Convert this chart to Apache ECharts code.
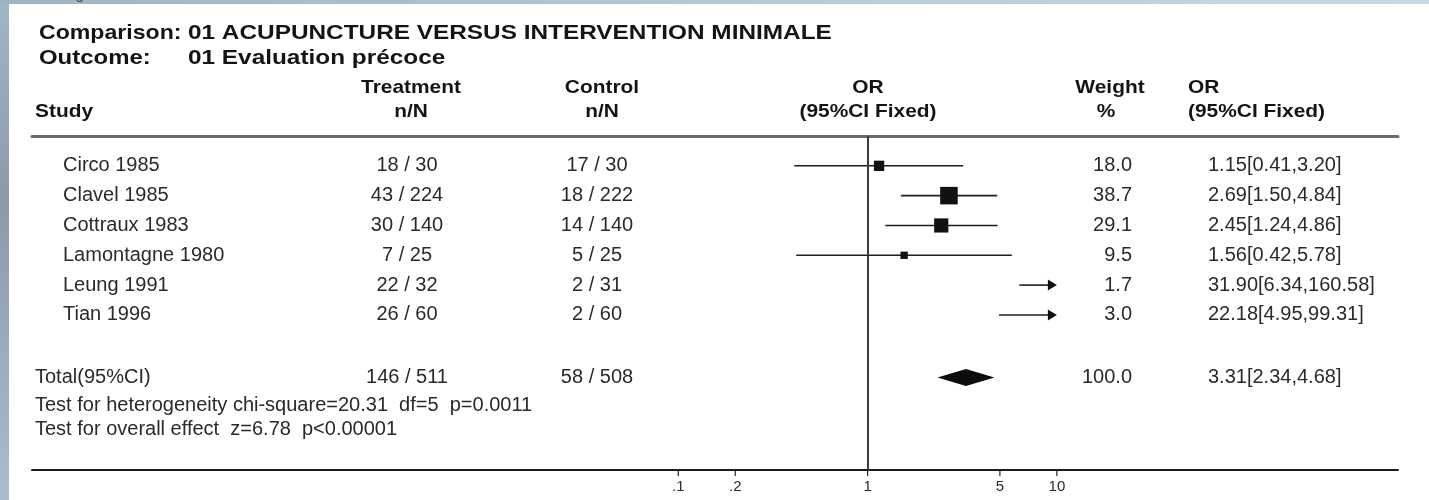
<!DOCTYPE html>
<html><head><meta charset="utf-8">
<script src="https://cdn.jsdelivr.net/npm/echarts@6/dist/echarts.min.js"></script>
<style>
html,body{margin:0;padding:0;}
body{width:1429px;height:500px;overflow:hidden;position:relative;
  background:linear-gradient(to bottom,#a3b6c5 0%,#8b9aa7 40%,#aabdcd 100%);}
#paper{position:absolute;left:9px;top:4px;width:1420px;height:496px;background:#ffffff;}
#topstrip{position:absolute;left:0;top:0;width:1429px;height:4px;background:linear-gradient(to right,#9fb3c3,#b9ccda 60%,#c8d7e2);}
#chart{position:absolute;left:0;top:0;width:1429px;height:500px;}
</style></head><body>
<div id="topstrip"></div><div id="paper"></div><div id="chart"></div>
<script>
// ---------------- data ----------------
const studies      = ['Circo 1985','Clavel 1985','Cottraux 1983','Lamontagne 1980','Leung 1991','Tian 1996'];
const treatEvents  = [18, 43, 30, 7, 22, 26];
const treatTotals  = [30, 224, 140, 25, 32, 60];
const ctrlEvents   = [17, 18, 14, 5, 2, 2];
const ctrlTotals   = [30, 222, 140, 25, 31, 60];
const weights      = [18.0, 38.7, 29.1, 9.5, 1.7, 3.0];
const orValues     = [1.15, 2.69, 2.45, 1.56, 31.90, 22.18];
const ciLow        = [0.41, 1.50, 1.24, 0.42, 6.34, 4.95];
const ciHigh       = [3.20, 4.84, 4.86, 5.78, 160.58, 99.31];

const totalLabel   = 'Total(95%CI)';
const totalTreat   = [146, 511];
const totalCtrl    = [58, 508];
const totalWeight  = [100.0];
const totalOR      = [3.31];
const totalLow     = [2.34];
const totalHigh    = [4.68];

const notes        = ['Test for heterogeneity chi-square=20.31  df=5  p=0.0011',
                      'Test for overall effect  z=6.78  p<0.00001'];
const tickValues   = [0.1, 0.2, 1, 5, 10];
const tickLabels   = ['.1', '.2', '1', '5', '10'];

const titleLine1   = ['Comparison:', '01 ACUPUNCTURE VERSUS INTERVENTION MINIMALE'];
const titleLine2   = ['Outcome:', '01 Evaluation précoce'];
const figLabel     = 'Fig 1';

// ---------------- layout ----------------
const FONT = '"Liberation Sans", Arial, Helvetica, sans-serif';
const AXIS_MIN = Math.pow(10, -4.414), AXIS_MAX = Math.pow(10, 2.802);
const PLOT_MIN = 0.1, PLOT_MAX = 10;
const Y_MIN = -1, Y_MAX = 10.2;
const ROW_TOTAL = 7.1, ROW_NOTES = [8.05, 8.85];
const COL = { study: 63, left: 35, treat: 407, ctrl: 597, weightRight: 1132, orText: 1208 };
const TEXT_COLOR = '#2a2a2a';
const BODY_SIZE = 20;

function f2(v){ return v.toFixed(2); }
function orStr(o,l,h){ return f2(o) + '[' + f2(l) + ',' + f2(h) + ']'; }
function txt(text, x, y, align, size){
  return { type:'text', x:x, y:y, silent:true,
    style:{ text:text, fill:TEXT_COLOR, fontSize:size||BODY_SIZE, fontFamily:FONT, align:align, verticalAlign:'middle' } };
}

function renderStudy(params, api){
  const i = params.dataIndex;
  const row = api.value(1);
  const y = api.coord([1, row])[1];
  const ch = [];
  ch.push(txt(studies[i], COL.study, y, 'left'));
  ch.push(txt(treatEvents[i] + ' / ' + treatTotals[i], COL.treat, y, 'center'));
  ch.push(txt(ctrlEvents[i] + ' / ' + ctrlTotals[i], COL.ctrl, y, 'center'));
  ch.push(txt(weights[i].toFixed(1), COL.weightRight, y, 'right'));
  ch.push(txt(orStr(orValues[i], ciLow[i], ciHigh[i]), COL.orText, y, 'left'));
  const xLo = api.coord([Math.max(ciLow[i], PLOT_MIN), row])[0];
  const xHi = api.coord([Math.min(ciHigh[i], PLOT_MAX), row])[0];
  const arrow = ciHigh[i] > PLOT_MAX;
  ch.push({ type:'line', shape:{ x1:xLo, y1:y, x2: arrow ? xHi - 6 : xHi, y2:y },
    style:{ stroke:'#1e1e1e', lineWidth:1.6 } });
  if (arrow) {
    ch.push({ type:'polygon', shape:{ points:[[xHi-9, y-5.5],[xHi, y],[xHi-9, y+5.5]] }, style:{ fill:'#111' } });
  }
  if (orValues[i] <= PLOT_MAX) {
    const xo = api.coord([orValues[i], row])[0];
    const s = 0.35 * weights[i] + 4;
    ch.push({ type:'rect', shape:{ x:xo - s/2, y:y - s/2, width:s, height:s }, style:{ fill:'#111' } });
  }
  return { type:'group', children:ch };
}

function renderTotal(params, api){
  const row = api.value(1);
  const y = api.coord([1, row])[1];
  const xl = api.coord([totalLow[0], row])[0];
  const xc = api.coord([totalOR[0], row])[0];
  const xh = api.coord([totalHigh[0], row])[0];
  const h = 8.5;
  return { type:'group', children:[
    txt(totalLabel, COL.left, y, 'left'),
    txt(totalTreat[0] + ' / ' + totalTreat[1], COL.treat, y, 'center'),
    txt(totalCtrl[0] + ' / ' + totalCtrl[1], COL.ctrl, y, 'center'),
    txt(totalWeight[0].toFixed(1), COL.weightRight, y, 'right'),
    txt(orStr(totalOR[0], totalLow[0], totalHigh[0]), COL.orText, y, 'left'),
    { type:'polygon', shape:{ points:[[xl, y],[xc, y-h],[xh, y],[xc, y+h]] }, style:{ fill:'#0d0d0d' } }
  ]};
}

function renderNote(params, api){
  const y = api.coord([1, api.value(1)])[1];
  return txt(notes[params.dataIndex], COL.left, y, 'left');
}

function renderTick(params, api){
  const p = api.coord([api.value(0), Y_MAX]);
  return { type:'group', children:[
    { type:'line', shape:{ x1:p[0], y1:p[1], x2:p[0], y2:p[1] + 6 }, style:{ stroke:'#222', lineWidth:1.2 } },
    { type:'text', x:p[0], y:p[1] + 17, style:{ text:tickLabels[params.dataIndex], fill:TEXT_COLOR, fontSize:15, fontFamily:FONT, align:'center', verticalAlign:'middle' } }
  ]};
}

function headText(text, x, y, align, size, scaleX){
  return { type:'text', x:x, y:y, scaleX:scaleX || 1, silent:true,
    style:{ text:text, fill:'#141414', fontSize:size, fontWeight:'bold', fontFamily:FONT, align:align, verticalAlign:'middle' } };
}

const chart = echarts.init(document.getElementById('chart'), null, { renderer:'canvas' });
chart.setOption({
  backgroundColor:'transparent',
  animation:false,
  grid:{ left:32, right:31, top:136, bottom:30, containLabel:false },
  xAxis:[
    { type:'log', min:AXIS_MIN, max:AXIS_MAX, position:'bottom',
      axisLine:{ show:true, onZero:false, lineStyle:{ color:'#1c1c1c', width:2 } },
      axisTick:{ show:false }, axisLabel:{ show:false }, splitLine:{ show:false }, minorTick:{show:false} },
    { type:'value', min:0, max:1, position:'top',
      axisLine:{ show:true, onZero:false, lineStyle:{ color:'#6a6a6a', width:3 } },
      axisTick:{ show:false }, axisLabel:{ show:false }, splitLine:{ show:false } }
  ],
  yAxis:{ type:'value', inverse:true, min:Y_MIN, max:Y_MAX, show:false },
  graphic:[
    { type:'text', x:62, y:-5, silent:true,
      style:{ text:figLabel, fill:'#555', fontSize:16, fontFamily:FONT, align:'left', verticalAlign:'middle' } },
    headText(titleLine1[0], 39, 33, 'left', 21, 1.10),
    headText(titleLine1[1], 188, 33, 'left', 21, 1.16),
    headText(titleLine2[0], 39, 58, 'left', 21, 1.14),
    headText(titleLine2[1], 188, 58, 'left', 21, 1.16),
    headText('Treatment', 411, 88, 'center', 19, 1.1),
    headText('Control', 602, 88, 'center', 19, 1.1),
    headText('OR', 868, 88, 'center', 19, 1.1),
    headText('Weight', 1110, 88, 'center', 19, 1.1),
    headText('OR', 1188, 88, 'left', 19, 1.1),
    headText('Study', 35, 112, 'left', 19, 1.1),
    headText('n/N', 411, 112, 'center', 19, 1.1),
    headText('n/N', 602, 112, 'center', 19, 1.1),
    headText('(95%CI Fixed)', 868, 112, 'center', 19, 1.1),
    headText('%', 1106, 112, 'center', 19, 1.1),
    headText('(95%CI Fixed)', 1188, 112, 'left', 19, 1.1)
  ],
  series:[
    { type:'custom', name:'studies', renderItem:renderStudy, encode:{ x:0, y:1 },
      data: orValues.map((v, i) => [v, i]),
      markLine:{ silent:true, symbol:'none', label:{ show:false },
        lineStyle:{ color:'#3a3a3a', width:2, type:'solid' }, data:[{ xAxis:1 }] } },
    { type:'custom', name:'total', renderItem:renderTotal, encode:{ x:0, y:1 },
      data:[[totalOR[0], ROW_TOTAL]] },
    { type:'custom', name:'notes', renderItem:renderNote, encode:{ x:0, y:1 },
      data: notes.map((n, i) => [1, ROW_NOTES[i]]) },
    { type:'custom', name:'ticks', renderItem:renderTick, encode:{ x:0, y:1 },
      data: tickValues.map(v => [v, Y_MAX]) }
  ]
});
</script>
</body></html>
